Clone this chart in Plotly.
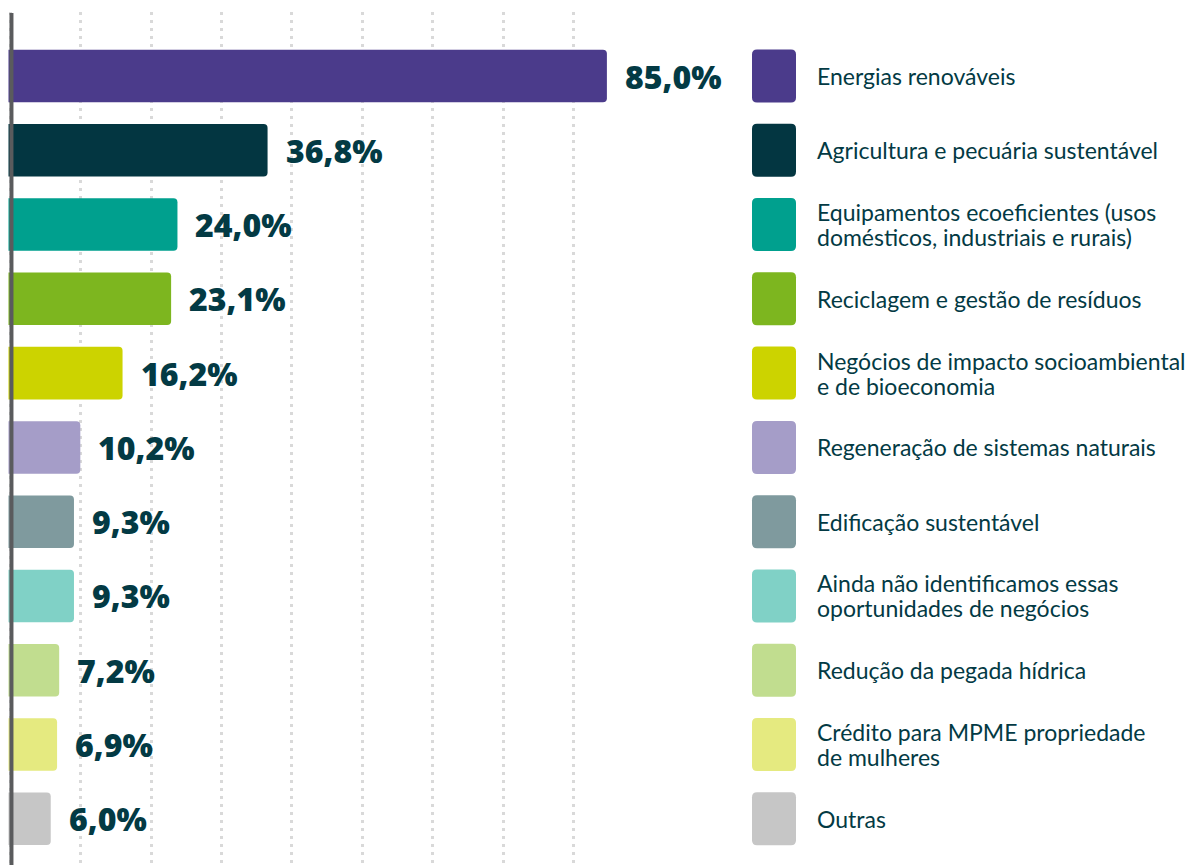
import plotly.graph_objects as go

W, H = 1192, 865

# Categories (legend labels; "<br>" marks a line break)
categories = [
    "Energias renováveis",
    "Agricultura e pecuária sustentável",
    "Equipamentos ecoeficientes (usos<br>domésticos, industriais e rurais)",
    "Reciclagem e gestão de resíduos",
    "Negócios de impacto socioambiental<br>e de bioeconomia",
    "Regeneração de sistemas naturais",
    "Edificação sustentável",
    "Ainda não identificamos essas<br>oportunidades de negócios",
    "Redução da pegada hídrica",
    "Crédito para MPME propriedade<br>de mulheres",
    "Outras",
]

# Share of respondents (%)
values = [85.0, 36.8, 24.0, 23.1, 16.2, 10.2, 9.3, 9.3, 7.2, 6.9, 6.0]

colors = [
    "#4b3b8b", "#033641", "#00a08e", "#7db61f", "#ccd300", "#a59dc8",
    "#7f9a9e", "#80d1c6", "#c1dd8f", "#e5ea80", "#c6c6c6",
]

TEXT_DARK = "#033a44"
n = len(values)
ypos = list(range(n))

# pixel geometry of the bar area
px_per_unit = 7.04
origin_px = 8.5
plot_w = 630
x_lo = -origin_px / px_per_unit
x_hi = x_lo + plot_w / px_per_unit

row_px = 74.28
top_px = 12
first_center_px = 76.0
y_top = -(first_center_px - top_px) / row_px
y_bot = y_top + (H - top_px) / row_px

fig = go.Figure()
fig.add_trace(go.Bar(
    x=values,
    y=ypos,
    orientation="h",
    width=0.707,
    marker=dict(color=colors, cornerradius=4, line=dict(width=0)),
    hoverinfo="skip",
))

annotations = []
shapes = []

# value labels to the right of each bar
for i, v in enumerate(values):
    label = f"{v:.1f}%".replace(".", ",")
    annotations.append(dict(
        x=v, y=i, xref="x", yref="y", text=label, showarrow=False,
        xanchor="left", yanchor="middle", xshift=16,
        font=dict(family="Open Sans", size=32, color=TEXT_DARK, weight=800),
    ))

# legend: rounded swatches plus wrapped labels
sw_w, sw_h, r = 44, 53, 5
x0, x1, y0, y1 = 0, sw_w, -sw_h / 2, sw_h / 2
swatch_path = (
    f"M {x0 + r},{y0} L {x1 - r},{y0} Q {x1},{y0} {x1},{y0 + r} "
    f"L {x1},{y1 - r} Q {x1},{y1} {x1 - r},{y1} L {x0 + r},{y1} "
    f"Q {x0},{y1} {x0},{y1 - r} L {x0},{y0 + r} Q {x0},{y0} {x0 + r},{y0} Z"
)
line_gap = 25
for i, (cat, col) in enumerate(zip(categories, colors)):
    shapes.append(dict(
        type="path", path=swatch_path,
        xref="paper", xanchor=752 / W, xsizemode="pixel",
        yref="y", yanchor=i, ysizemode="pixel",
        fillcolor=col, line=dict(width=0), layer="above",
    ))
    lines = cat.split("<br>")
    k = len(lines)
    for j, txt in enumerate(lines):
        annotations.append(dict(
            x=815 / W, y=i, xref="paper", yref="y", text=txt,
            showarrow=False, xanchor="left", yanchor="middle",
            yshift=((k - 1) / 2 - j) * line_gap,
            font=dict(family="Lato", size=23, color=TEXT_DARK),
        ))

# vertical axis line
shapes.append(dict(
    type="line", xref="x", yref="paper",
    x0=0.42, x1=0.42, y0=0, y1=(H - 13) / H,
    line=dict(color="#5a5b5d", width=4), layer="above",
))

fig.update_layout(
    width=W, height=H,
    margin=dict(l=0, r=0, t=0, b=0),
    paper_bgcolor="white", plot_bgcolor="white",
    showlegend=False,
    bargap=0.3,
    xaxis=dict(
        domain=[0, plot_w / W], range=[x_lo, x_hi],
        showgrid=True, gridcolor="#d9d9d9", gridwidth=3, griddash="3px,5px",
        tick0=0.25, dtick=10, showticklabels=False, ticks="",
        zeroline=False, showline=False, fixedrange=True,
    ),
    yaxis=dict(
        domain=[0, (H - top_px) / H], range=[y_bot, y_top],
        showgrid=False, showticklabels=False, ticks="",
        zeroline=False, showline=False, fixedrange=True,
    ),
    annotations=annotations,
    shapes=shapes,
)

fig.write_html("out.html", config=dict(displayModeBar=False))
